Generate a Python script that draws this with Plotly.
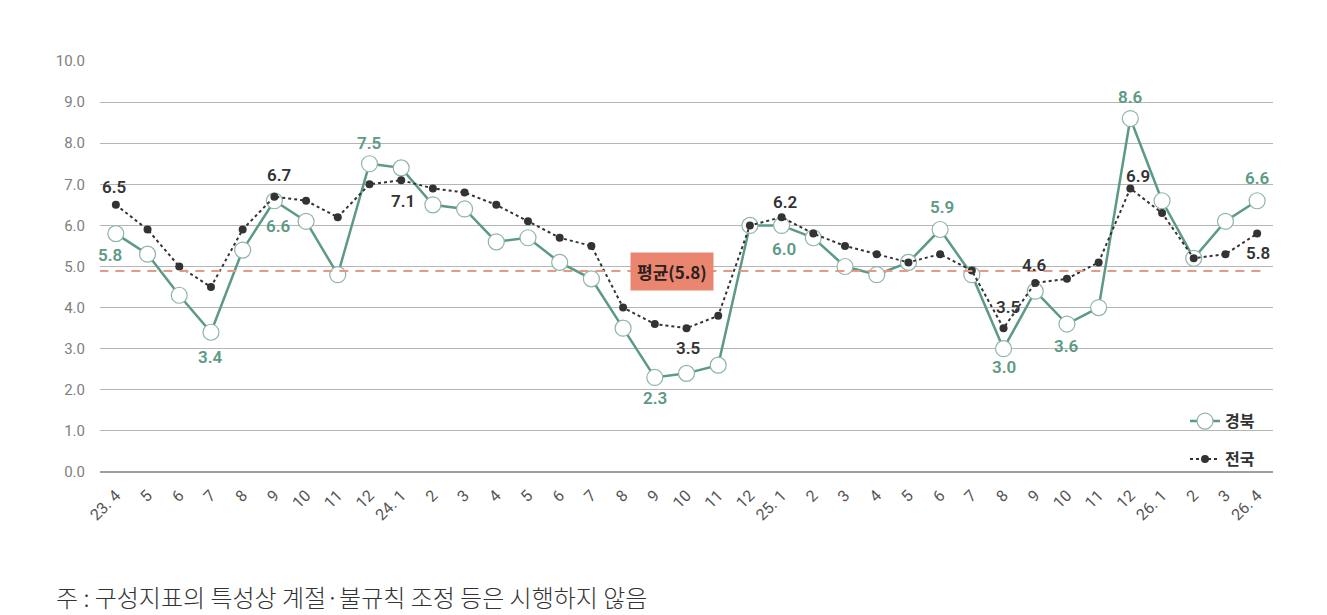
import plotly.graph_objects as go

months = ["23. 4", "5", "6", "7", "8", "9", "10", "11", "12",
          "24. 1", "2", "3", "4", "5", "6", "7", "8", "9", "10", "11", "12",
          "25. 1", "2", "3", "4", "5", "6", "7", "8", "9", "10", "11", "12",
          "26. 1", "2", "3", "26. 4"]

gyeongbuk = [5.8, 5.3, 4.3, 3.4, 5.4, 6.6, 6.1, 4.8, 7.5,
             7.4, 6.5, 6.4, 5.6, 5.7, 5.1, 4.7, 3.5, 2.3, 2.4, 2.6, 6.0,
             6.0, 5.7, 5.0, 4.8, 5.1, 5.9, 4.8, 3.0, 4.4, 3.6, 4.0, 8.6,
             6.6, 5.2, 6.1, 6.6]

national = [6.5, 5.9, 5.0, 4.5, 5.9, 6.7, 6.6, 6.2, 7.0,
            7.1, 6.9, 6.8, 6.5, 6.1, 5.7, 5.5, 4.0, 3.6, 3.5, 3.8, 6.0,
            6.2, 5.8, 5.5, 5.3, 5.1, 5.3, 4.9, 3.5, 4.6, 4.7, 5.1, 6.9,
            6.3, 5.2, 5.3, 5.8]

avg_line = 4.89
avg_text = "평균(5.8)"
y_ticks = [0, 1, 2, 3, 4, 5, 6, 7, 8, 9, 10]
note = "주 : 구성지표의 특성상 계절·불규칙 조정 등은 시행하지 않음"

GREEN = "#5c9a83"
DARK = "#333333"

x = list(range(len(months)))

fig = go.Figure()
fig.add_trace(go.Scatter(
    x=x, y=gyeongbuk, mode="lines+markers", name="경북",
    line=dict(color=GREEN, width=2.5),
    marker=dict(symbol="circle", size=16, color="white",
                line=dict(color="#8fb5a6", width=1.2)),
    legendgroup="a",
))
fig.add_trace(go.Scatter(
    x=x, y=national, mode="lines+markers", name="전국",
    line=dict(color=DARK, width=2, dash="dot"),
    marker=dict(symbol="circle", size=8, color=DARK),
    legendgroup="b",
))

# average dashed line
fig.add_shape(type="line", xref="x", yref="y", x0=-0.52, x1=36.15,
              y0=avg_line, y1=avg_line,
              line=dict(color="#e39a88", width=2, dash="9px,7px"))

# data labels: (index, xshift, yshift)
green_labels = [(0, -6, -21), (3, 0, -25), (5, 4, -25), (8, 0, 21),
                (17, 0, -21), (21, 2, -24), (26, 2, 23), (28, 0, -18),
                (30, 0, -22), (32, 0, 22), (36, 0, 23)]
dark_labels = [(0, -2, 18), (5, 5, 22), (9, 2, -21), (18, 1, -20),
               (21, 4, 15), (28, 4, 21), (29, -1, 18), (32, 8, 12),
               (36, 1, -19)]

for i, dx, dy in green_labels:
    fig.add_annotation(x=i, y=gyeongbuk[i], text=f"{gyeongbuk[i]:.1f}",
                       showarrow=False, xshift=dx, yshift=dy,
                       font=dict(family="Roboto", size=17, color=GREEN, weight=600))
for i, dx, dy in dark_labels:
    fig.add_annotation(x=i, y=national[i], text=f"{national[i]:.1f}",
                       showarrow=False, xshift=dx, yshift=dy,
                       font=dict(family="Roboto", size=17, color=DARK, weight=600))

fig.add_annotation(x=17.54, y=avg_line, text=f"<b>{avg_text}</b>", showarrow=False,
                   bgcolor="#ea8670", borderpad=6,
                   font=dict(family="Noto Sans CJK KR", size=17, color="#2a2020"))

fig.add_annotation(xref="paper", yref="paper", x=-0.039, y=-0.302,
                   xanchor="left", yanchor="middle", text=note, showarrow=False,
                   font=dict(family="Noto Sans CJK KR", size=24, color="#333333", weight=300))

fig.update_layout(
    width=1327, height=615,
    margin=dict(l=100, r=54, t=61, b=143),
    plot_bgcolor="white", paper_bgcolor="white",
    showlegend=True,
    legend=dict(x=0.925, y=0.165, xanchor="left", yanchor="top",
                bgcolor="rgba(0,0,0,0)", tracegroupgap=14,
                font=dict(family="Noto Sans CJK KR", size=16, color="#333333", weight=700),
                itemwidth=30),
    font=dict(family="Roboto"),
)
fig.update_xaxes(range=[-0.5, 36.5], tickmode="array", tickvals=x, ticktext=months,
                 tickangle=-45, showgrid=False, zeroline=False, showline=False,
                 ticks="", ticklabelstandoff=10,
                 tickfont=dict(family="Roboto", size=16, color="#555555"))
fig.update_yaxes(range=[0, 10], tickvals=y_ticks,
                 ticktext=[f"{v:.1f}" for v in y_ticks],
                 showgrid=True, gridcolor="#b5b5b5", gridwidth=1,
                 zeroline=True, zerolinecolor="#a0a0a0", zerolinewidth=1.5,
                 showline=False, ticks="", ticklabelstandoff=14,
                 tickfont=dict(family="Roboto", size=15, color="#808080"))

fig.write_html("out.html")
